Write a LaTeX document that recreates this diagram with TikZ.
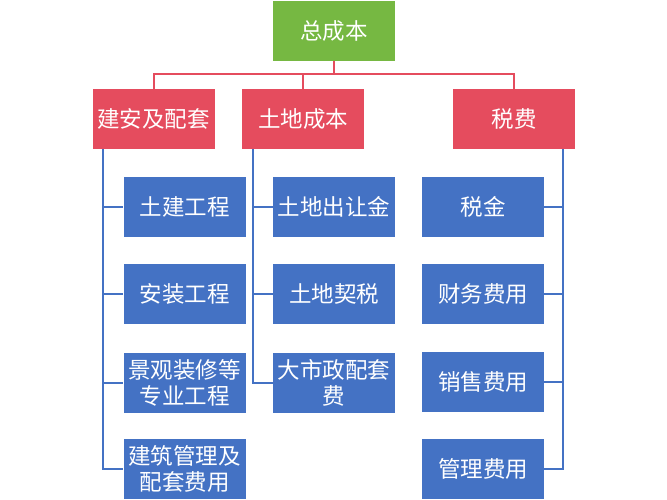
\documentclass[tikz,border=0pt]{standalone}
\usepackage{fontspec}
\newfontfamily\cjk{Noto Sans CJK SC}
\definecolor{topgreen}{RGB}{118,184,66}
\definecolor{midred}{RGB}{229,76,94}
\definecolor{leafblue}{RGB}{68,114,196}
\begin{document}
\begin{tikzpicture}[x=1pt,y=-1pt,
  box/.style={minimum width=122pt, minimum height=60pt, inner sep=0pt,
    font=\cjk\fontsize{22.5}{26}\selectfont, text=white, align=center},
  topbox/.style={box, fill=topgreen},
  midbox/.style={box, fill=midred},
  leafbox/.style={box, fill=leafblue},
  redline/.style={draw=midred, line width=2pt},
  blueline/.style={draw=leafblue, line width=2pt}]
\useasboundingbox (0,0) rectangle (667,500);
\node[topbox] (top) at (334,31) {总成本};
\node[midbox] (r1) at (153.5,119) {建安及配套};
\node[midbox] (r2) at (303,119) {土地成本};
\node[midbox] (r3) at (514,119) {税费};
\node[leafbox] (a1) at (184.5,207) {土建工程};
\node[leafbox] (a2) at (184.5,294) {安装工程};
\node[leafbox] (a3) at (184.5,382.5) {景观装修等\\专业工程};
\node[leafbox] (a4) at (184.5,469) {建筑管理及\\配套费用};
\node[leafbox] (b1) at (334,207) {土地出让金};
\node[leafbox] (b2) at (334,294) {土地契税};
\node[leafbox] (b3) at (334,382.5) {大市政配套\\费};
\node[leafbox] (c1) at (483,207) {税金};
\node[leafbox] (c2) at (483,294) {财务费用};
\node[leafbox] (c3) at (483,382) {销售费用};
\node[leafbox] (c4) at (483,469) {管理费用};
\draw[redline] (top.south) -- ++(0,13) -| (r1.north);
\draw[redline] (top.south) -- ++(0,13) -| (r2.north);
\draw[redline] (top.south) -- ++(0,13) -| (r3.north);
\foreach \c in {a1,a2,a3,a4}
  \draw[blueline] ([xshift=11pt]r1.south west) |- (\c.west);
\foreach \c in {b1,b2,b3}
  \draw[blueline] ([xshift=11pt]r2.south west) |- (\c.west);
\foreach \c in {c1,c2,c3,c4}
  \draw[blueline] ([xshift=-12pt]r3.south east) |- (\c.east);
\end{tikzpicture}
\end{document}
